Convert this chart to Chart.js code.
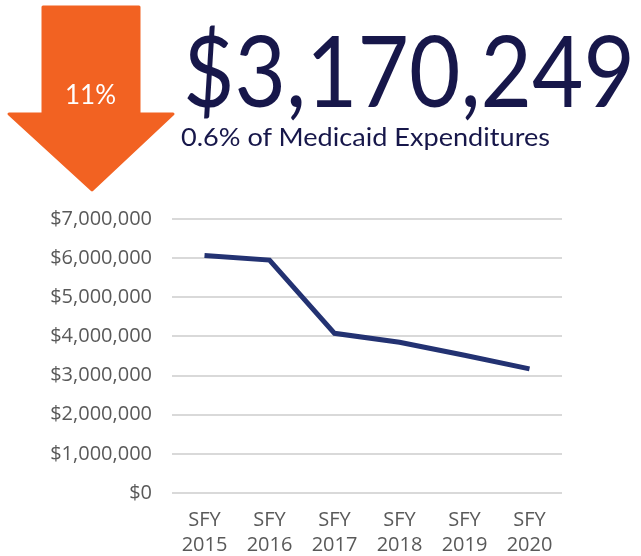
<!DOCTYPE html>
<html>
<head>
<meta charset="utf-8">
<script src="https://cdn.jsdelivr.net/npm/chart.js@4"></script>
<style>
  html, body { margin: 0; padding: 0; background: #fff; }
  #wrap { position: relative; width: 641px; height: 556px; overflow: hidden; }
  #arrow { position: absolute; left: 0; top: 0; }
  .txt { position: absolute; white-space: nowrap; line-height: 1; transform-origin: 0 0; }
  #pct { left: 65px; top: 78px; color: #fff; font: 400 26px Lato, sans-serif; }
  #big { left: 183px; top: 9px; color: #17174a; font: 400 99px Lato, sans-serif; }
  #sub { left: 181px; top: 121px; color: #17174a; font: 400 25px Lato, sans-serif; }
  canvas { position: absolute; left: 0; top: 0; }
</style>
</head>
<body>
<div id="wrap">
  <canvas id="chart" width="641" height="577"></canvas>
  <svg id="arrow" width="200" height="200">
    <polygon points="43,7 139,7 139,114 173,114 92,190 9,114 43,114" fill="#f26222" stroke="#f26222" stroke-linejoin="round" stroke-width="3"/>
  </svg>
  <div class="txt" id="pct">11%</div>
  <div class="txt" id="big">$3,170,249</div>
  <div class="txt" id="sub">0.6% of Medicaid Expenditures</div>
</div>
<script>
// данные графика
const years = [['SFY', '2015'], ['SFY', '2016'], ['SFY', '2017'], ['SFY', '2018'], ['SFY', '2019'], ['SFY', '2020']];
const spending = [6070000, 5950000, 4080000, 3850000, 3520000, 3170249];
const yMax = 7000000;
const yStep = 1000000;

// растянуть заголовки до ширины как на картинке
function fitWidth(id, target) {
    const el = document.getElementById(id);
    const w = el.getBoundingClientRect().width;
    el.style.transform = 'scaleX(' + (target / w) + ')';
}
fitWidth('big', 452);
fitWidth('sub', 369);

const ctx = document.getElementById('chart').getContext('2d');
new Chart(ctx, {
    type: 'line',
    data: {
        labels: years,
        datasets: [{
            data: spending,
            borderColor: '#233272',
            borderWidth: 5,
            pointRadius: 0,
            tension: 0,
            fill: false
        }]
    },
    options: {
        responsive: false,
        animation: false,
        layout: { padding: { top: 219, right: 79, bottom: 4, left: 0 } },
        plugins: { legend: { display: false }, tooltip: { enabled: false } },
        scales: {
            x: {
                offset: true,
                grid: { display: false, drawTicks: false },
                border: { display: false },
                ticks: {
                    color: '#595959',
                    font: { family: "'Open Sans'", size: 20, lineHeight: 1.25 },
                    padding: 15,
                    maxRotation: 0
                }
            },
            y: {
                min: 0,
                max: yMax,
                afterFit: (scale) => { scale.width = 172; },
                grid: { color: '#d9d9d9', lineWidth: 2, drawTicks: false },
                border: { display: false },
                ticks: {
                    stepSize: yStep,
                    padding: 20,
                    color: '#595959',
                    font: { family: "'Open Sans'", size: 20 },
                    callback: (v) => '$' + v.toLocaleString('en-US')
                }
            }
        }
    }
});
</script>
</body>
</html>
